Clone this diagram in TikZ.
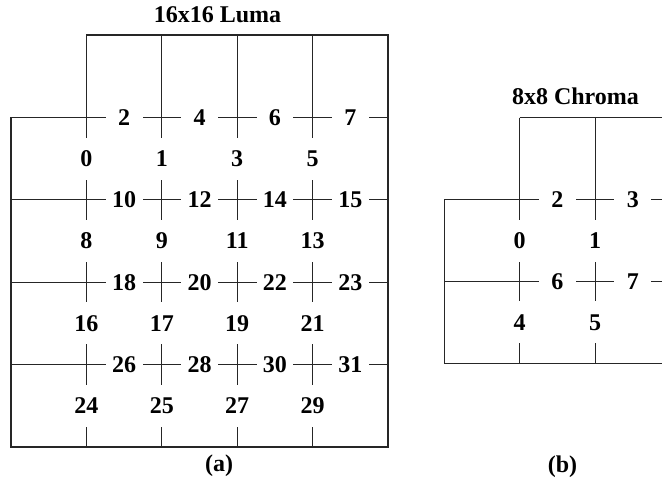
\documentclass[tikz,border=0pt]{standalone}
\usepackage{fontspec}
\setmainfont{Liberation Serif}
\tikzset{
  blkfig/.style={x=0.5pt, y=-0.5pt},
  gridline/.style={draw=black!85, line width=0.6pt},
  % numbers sit in a fixed white gap cut out of the grid line
  num/.style={fill=white, inner sep=0pt, minimum width=18.4pt, minimum height=21pt,
    font=\fontsize{12}{13}\selectfont\bfseries},
  caption/.style={inner sep=0pt, font=\fontsize{12}{14}\selectfont\bfseries},
}

\begin{document}
\begin{tikzpicture}[blkfig]
  \clip (0,0) rectangle (662,483);

  % 16x16 luma block
  \begin{scope}[shift={(11,35)}, x=37.7pt, y=-41.2pt]
    \draw[gridline] (1,0) -- (5,0) -- (5,5) -- (0,5) -- (0,1) -- (5,1);
    \foreach \j in {2,3,4}
      \draw[gridline] (0,\j) -- (5,\j);
    \foreach \i in {1,...,4}
      \draw[gridline] (\i,0) -- (\i,5);
    \foreach \r in {0,...,3} {
      \foreach \i/\v/\h in {1/0/2, 2/1/4, 3/3/6, 4/5/7} {
        \pgfmathtruncatemacro\nv{8*\r+\v}
        \pgfmathtruncatemacro\nh{8*\r+\h}
        \node[num] (luma-\nv) at (\i,\r+1.5) {\nv};
        \node[num] (luma-\nh) at (\i+0.5,\r+1) {\nh};
      }
    }
  \end{scope}
  \node[caption] (luma-title) at (217.5,15) {16x16 Luma};
  \node[caption] (luma-tag) at (219,466) {(a)};

  % 8x8 chroma block, runs off the right edge
  \begin{scope}[shift={(444.3,117.7)}, x=37.7pt, y=-40.95pt]
    \draw[gridline] (1,0) -- (3.4,0);
    \draw[gridline] (3.4,1) -- (0,1) -- (0,3) -- (3.4,3);
    \draw[gridline] (0,2) -- (3.4,2);
    \foreach \i in {1,2}
      \draw[gridline] (\i,0) -- (\i,3);
    \foreach \r in {0,1} {
      \foreach \i/\v/\h in {1/0/2, 2/1/3} {
        \pgfmathtruncatemacro\nv{4*\r+\v}
        \pgfmathtruncatemacro\nh{4*\r+\h}
        \node[num] (chroma-\nv) at (\i,\r+1.5) {\nv};
        \node[num] (chroma-\nh) at (\i+0.5,\r+1) {\nh};
      }
    }
  \end{scope}
  \node[caption] (chroma-title) at (575.5,96.7) {8x8 Chroma};
  \node[caption] (chroma-tag) at (562.5,467) {(b)};
\end{tikzpicture}
\end{document}
